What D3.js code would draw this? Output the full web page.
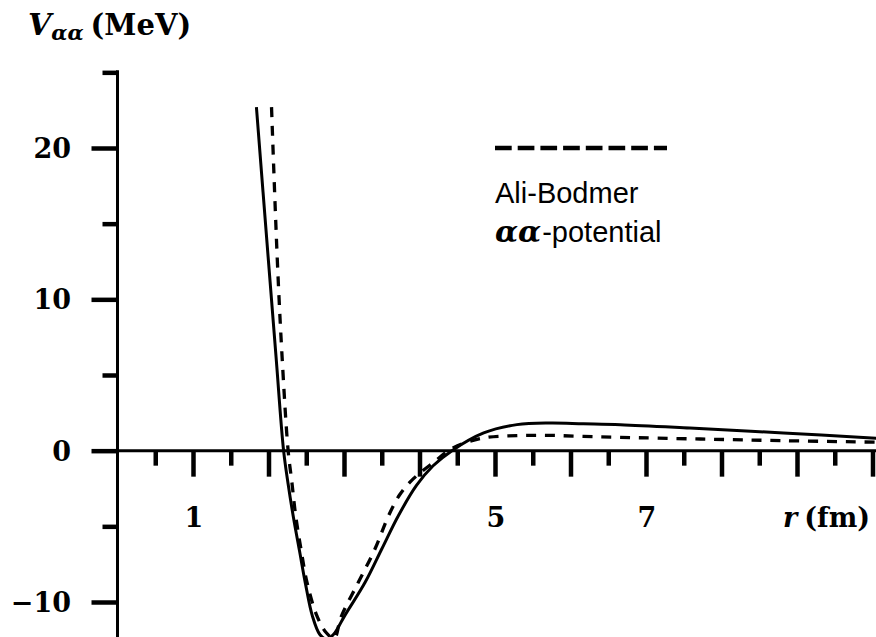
<!DOCTYPE html>
<html lang="en">
<head>
<meta charset="UTF-8">
<title>Ali-Bodmer alpha-alpha potential</title>
<script src="https://d3js.org/d3.v7.min.js"></script>
<style>
  body { margin: 0; background: #fff; }
  svg { display: block; }
  .num { font-family: "DejaVu Serif", serif; font-weight: bold; font-size: 27px; }
  .sans { font-family: "Liberation Sans", Arial, sans-serif; font-size: 29px; }
</style>
</head>
<body>
<svg width="876" height="637"></svg>
<script>
    // solid curve
    const rSolid = [1.84, 1.995, 2.10, 2.20, 2.26, 2.33, 2.41, 2.49, 2.58, 2.68, 2.77, 2.86, 3.01, 3.28, 3.50, 3.72, 3.96, 4.18, 4.43, 4.85, 5.29, 5.73, 6.17, 6.66, 7.58, 8.82, 10.05];
    const vSolid = [22.7, 12.8, 6.2, 0, -2.2, -4.4, -6.6, -8.8, -10.9, -12.15, -12.45, -12.15, -10.9, -8.7, -6.5, -4.3, -2.3, -1.0, 0, 1.17, 1.72, 1.83, 1.78, 1.72, 1.50, 1.17, 0.82];

    // dashed curve: Ali-Bodmer
    const rDashed = [2.04, 2.115, 2.18, 2.26, 2.31, 2.36, 2.43, 2.51, 2.64, 2.76, 2.87, 2.96, 3.19, 3.41, 3.59, 3.74, 3.92, 4.18, 4.45, 4.85, 5.29, 5.73, 6.17, 6.66, 7.72, 8.82, 10.05];
    const vDashed = [22.7, 12.8, 6.2, 0, -2.1, -4.3, -6.5, -8.7, -10.9, -12.0, -12.4, -11.0, -8.7, -6.5, -4.3, -2.9, -1.85, -0.8, 0.2, 0.84, 0.99, 1.01, 0.94, 0.88, 0.77, 0.66, 0.56];

    const xMajor = [1, 2, 3, 4, 5, 6, 7, 8, 9, 10];
    const xMinor = [0.5, 1.5, 2.5, 3.5, 4.5, 5.5, 6.5, 7.5, 8.5, 9.5];
    const xLabels = [1, 5, 7];
    const yMajor = [-10, 0, 10, 20];
    const yMinor = [-5, 5, 15, 25];
    const yLabels = ["\u221210", "0", "10", "20"];

    const svg = d3.select("svg");
    const W = 876, H = 637;

    const x = d3.scaleLinear().domain([1, 7]).range([193, 646]);
    const y = d3.scaleLinear().domain([-10, 20]).range([602, 148]);

    svg.append("defs").append("clipPath").attr("id", "plot")
        .append("rect").attr("x", x(0)).attr("y", 0).attr("width", W - x(0)).attr("height", H);

    // ticks via d3 axes
    function tickAxis(axis, vals, size, tf) {
        const g = svg.append("g").attr("transform", tf)
            .call(axis.tickValues(vals).tickSize(size).tickFormat(""));
        g.select(".domain").remove();
        g.selectAll(".tick line").attr("stroke", "#000").attr("stroke-width", 4.5);
        return g;
    }
    tickAxis(d3.axisBottom(x), xMajor, 26, `translate(0,${y(0)})`);
    tickAxis(d3.axisBottom(x), xMinor, 15, `translate(0,${y(0)})`);
    tickAxis(d3.axisLeft(y), yMajor, 26, `translate(${x(0)},0)`);
    tickAxis(d3.axisLeft(y), yMinor, 15, `translate(${x(0)},0)`);

    // axis lines
    svg.append("line").attr("x1", x(0)).attr("x2", W).attr("y1", y(0)).attr("y2", y(0))
        .attr("stroke", "#000").attr("stroke-width", 3);
    svg.append("line").attr("x1", x(0)).attr("x2", x(0)).attr("y1", y(25) - 2).attr("y2", H)
        .attr("stroke", "#000").attr("stroke-width", 3);

    // tick labels
    svg.selectAll(".ylab").data(yMajor).enter().append("text")
        .attr("class", "num").attr("text-anchor", "end")
        .attr("x", 71).attr("y", d => y(d) + 10)
        .text((d, i) => yLabels[i]);
    svg.selectAll(".xlab").data(xLabels).enter().append("text")
        .attr("class", "num").attr("text-anchor", "middle")
        .attr("x", d => x(d) + 1).attr("y", 527)
        .text(d => d);

    // axis titles
    const yt = svg.append("text").attr("class", "num").attr("x", 28).attr("y", 35);
    yt.append("tspan").attr("font-style", "italic").attr("font-size", 30).text("V");
    yt.append("tspan").attr("font-style", "italic").attr("font-size", 21).attr("dy", 5).text("\u03b1\u03b1");
    yt.append("tspan").attr("dy", -5).attr("dx", 7).attr("font-size", 29).text("(MeV)");

    const xt = svg.append("text").attr("class", "num").attr("text-anchor", "end").attr("x", 870).attr("y", 527);
    xt.append("tspan").attr("font-style", "italic").text("r");
    xt.append("tspan").attr("dx", 7).text("(fm)");

    // curves
    const line = d3.line().x(d => x(d[0])).y(d => y(d[1])).curve(d3.curveCatmullRom.alpha(0.5));
    const plot = svg.append("g").attr("clip-path", "url(#plot)");
    plot.append("path").datum(d3.zip(rSolid, vSolid)).attr("d", line)
        .attr("fill", "none").attr("stroke", "#000").attr("stroke-width", 3);
    plot.append("path").datum(d3.zip(rDashed, vDashed)).attr("d", line)
        .attr("fill", "none").attr("stroke", "#000").attr("stroke-width", 3.3)
        .attr("stroke-dasharray", "10,8.8");

    // legend
    svg.append("line").attr("x1", 495).attr("x2", 667).attr("y1", 148).attr("y2", 148)
        .attr("stroke", "#000").attr("stroke-width", 4.5).attr("stroke-dasharray", "16.7,6");
    svg.append("text").attr("class", "sans").attr("x", 495).attr("y", 203).text("Ali-Bodmer");
    const lt = svg.append("text").attr("class", "sans").attr("x", 495).attr("y", 242);
    lt.append("tspan").attr("font-family", "DejaVu Serif").attr("font-weight", "600")
        .attr("font-style", "italic").attr("font-size", 30).text("\u03b1\u03b1");
    lt.append("tspan").attr("dx", 1).text("-potential");
</script>
</body>
</html>
